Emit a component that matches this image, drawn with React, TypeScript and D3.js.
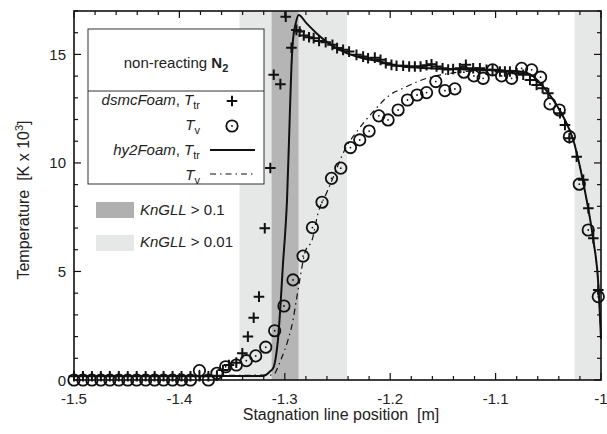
import React from 'react';
import * as d3 from 'd3';

const W = 607, H = 434;
const PL = 74, PR = 601, PT = 11, PB = 380;

const xMajor = [-1.5, -1.4, -1.3, -1.2, -1.1, -1.0];
const xMajorLabels = ['-1.5', '-1.4', '-1.3', '-1.2', '-1.1', '-1'];
const yMajor = [0, 5, 10, 15];
const yMajorLabels = ['0', '5', '10', '15'];

const knDark: [number, number][] = [[-1.3125, -1.287]];
const knLight: [number, number][] = [[-1.343, -1.241], [-1.025, -1.0]];

// dsmcFoam translational-rotational temperature (+)
const dsmcTtr: [number, number][] = [
  [-1.5, 0.17], [-1.4915, 0.17], [-1.483, 0.17], [-1.4745, 0.17], [-1.466, 0.17], [-1.4575, 0.17],
  [-1.449, 0.17], [-1.4405, 0.17], [-1.432, 0.17], [-1.4235, 0.17], [-1.415, 0.17], [-1.4065, 0.17],
  [-1.398, 0.17], [-1.3895, 0.17], [-1.381, 0.17], [-1.3725, 0.17], [-1.3644, 0.2],
  [-1.3587, 0.46], [-1.353, 0.69], [-1.346, 0.8], [-1.3403, 1.23], [-1.335, 2.0], [-1.3295, 2.87],
  [-1.3245, 3.84], [-1.319, 6.99], [-1.3137, 9.77], [-1.3105, 14.06], [-1.3042, 13.63],
  [-1.2991, 16.74], [-1.2937, 15.31], [-1.289, 16.13],
  [-1.2859, 16.05], [-1.282, 15.87], [-1.277, 15.79], [-1.2726, 15.75], [-1.2675, 15.62],
  [-1.2612, 15.56], [-1.2548, 15.44], [-1.2504, 15.29], [-1.2447, 15.21], [-1.239, 15.13],
  [-1.232, 14.98], [-1.2257, 14.9], [-1.221, 14.82], [-1.2146, 14.85], [-1.2092, 14.75],
  [-1.2042, 14.59], [-1.1988, 14.52], [-1.194, 14.48], [-1.1877, 14.48], [-1.182, 14.44],
  [-1.1766, 14.44], [-1.1712, 14.44], [-1.1655, 14.5], [-1.1608, 14.55], [-1.156, 14.44],
  [-1.1503, 14.36], [-1.145, 14.3], [-1.1403, 14.33], [-1.1339, 14.36], [-1.1282, 14.52],
  [-1.1213, 14.36], [-1.1149, 14.36], [-1.1086, 14.29], [-1.1029, 14.29], [-1.0959, 14.21],
  [-1.0912, 14.21], [-1.0864, 14.21], [-1.08, 14.13], [-1.0738, 14.06], [-1.0674, 13.82],
  [-1.0611, 13.59], [-1.0554, 13.44], [-1.05, 13.21], [-1.0389, 12.29], [-1.0342, 11.75],
  [-1.03, 11.14], [-1.0231, 10.29], [-1.0168, 9.22], [-1.012, 7.91], [-1.0073, 6.53], [-1.0026, 4.15],
];

// dsmcFoam vibrational temperature (circles)
const dsmcTv: [number, number][] = [
  [-1.5, 0], [-1.4915, 0], [-1.483, 0], [-1.4745, 0], [-1.466, 0], [-1.4575, 0],
  [-1.449, 0], [-1.4405, 0], [-1.432, 0], [-1.4235, 0], [-1.415, 0], [-1.4065, 0],
  [-1.398, 0], [-1.3895, 0], [-1.381, 0.43], [-1.3725, 0], [-1.3644, 0.31],
  [-1.3561, 0.61], [-1.346, 0.69], [-1.3365, 0.89], [-1.3276, 1.11], [-1.3181, 1.51],
  [-1.3096, 2.27], [-1.3008, 3.41], [-1.2922, 4.61], [-1.2827, 5.71], [-1.2738, 7.02],
  [-1.2647, 8.19], [-1.2557, 9.29], [-1.2469, 9.76], [-1.2377, 10.71], [-1.2289, 11.06],
  [-1.22, 11.47], [-1.2108, 12.17], [-1.202, 11.98], [-1.1925, 12.44], [-1.1836, 12.9],
  [-1.1745, 13.13], [-1.1655, 13.24], [-1.1567, 13.75], [-1.1481, 13.33], [-1.1386, 13.41],
  [-1.1301, 14.18], [-1.1206, 14.01], [-1.1118, 13.9], [-1.1029, 14.29], [-1.0943, 14.01],
  [-1.0848, 13.9], [-1.0753, 14.36], [-1.0658, 14.29], [-1.0573, 13.95], [-1.0484, 12.72],
  [-1.0396, 12.44], [-1.03, 11.21], [-1.0206, 9.02], [-1.0121, 6.91], [-1.0026, 3.84],
];

// hy2Foam translational-rotational temperature (solid line)
const hy2Ttr: [number, number][] = [
  [-1.5, 0.18], [-1.321, 0.18], [-1.3143, 0.38], [-1.3105, 0.61], [-1.308, 1.23], [-1.3065, 1.84],
  [-1.3048, 2.92], [-1.3032, 4.15], [-1.3017, 5.38], [-1.3001, 6.45], [-1.2979, 8.29],
  [-1.2953, 12.13], [-1.2937, 14.44], [-1.2922, 15.67], [-1.2896, 16.44], [-1.2868, 16.82],
  [-1.2795, 16.44], [-1.27, 15.98], [-1.2605, 15.59], [-1.2479, 15.21], [-1.232, 14.9],
  [-1.2099, 14.67], [-1.1878, 14.44], [-1.1624, 14.36], [-1.0769, 14.21], [-1.0643, 13.98],
  [-1.0548, 13.52], [-1.0453, 12.9], [-1.0358, 12.13], [-1.0263, 11.06], [-1.02, 9.83],
  [-1.0136, 8.29], [-1.0073, 6.45], [-1.0026, 4.46], [-1.0, 1.9],
];

// hy2Foam vibrational temperature (dash-dot line)
const hy2Tv: [number, number][] = [
  [-1.5, 0.18], [-1.3115, 0.23], [-1.3032, 1.0], [-1.297, 1.84], [-1.2922, 2.76], [-1.289, 3.69],
  [-1.2858, 4.61], [-1.2811, 5.84], [-1.2738, 6.5], [-1.2685, 7.68], [-1.2605, 8.6],
  [-1.2574, 8.95], [-1.2415, 10.75], [-1.2305, 11.52], [-1.2162, 12.36], [-1.2004, 13.13],
  [-1.1877, 13.44], [-1.1719, 13.79], [-1.1593, 13.98], [-1.14, 14.15], [-1.12, 14.24],
  [-1.1, 14.25], [-1.0769, 14.21], [-1.0643, 13.98], [-1.0548, 13.52], [-1.0453, 12.9],
  [-1.0358, 12.13], [-1.0263, 11.06], [-1.02, 9.83], [-1.0136, 8.29], [-1.0073, 6.45],
  [-1.0026, 4.46], [-1.0, 1.9],
];

const FONT = "'Liberation Sans', Arial, sans-serif";

export default function App() {
  const x = d3.scaleLinear().domain([-1.5, -1.0]).range([PL, PR]);
  const y = d3.scaleLinear().domain([0, 17]).range([PB, PT]);
  const lineGen = d3.line<[number, number]>().x(d => x(d[0])).y(d => y(d[1])).curve(d3.curveMonotoneX);

  const xMinor = x.ticks(25);
  const yMinor = y.ticks(17);

  const plus = (cx: number, cy: number, key: string | number, s = 5.3) => (
    <path key={key} d={`M${cx - s},${cy}H${cx + s}M${cx},${cy - s}V${cy + s}`} stroke="#111" strokeWidth={2} fill="none" />
  );
  const circ = (cx: number, cy: number, key: string | number) => (
    <g key={key}>
      <circle cx={cx} cy={cy} r={5.7} fill="none" stroke="#111" strokeWidth={1.8} />
      <circle cx={cx} cy={cy} r={0.9} fill="#111" />
    </g>
  );

  const isMajorX = (v: number) => xMajor.some(m => Math.abs(m - v) < 1e-6);
  const isMajorY = (v: number) => yMajor.some(m => Math.abs(m - v) < 1e-6);

  return (
    <div style={{ position: 'absolute', left: 0, top: 0 }}>
      <svg width={W} height={H} style={{ display: 'block', fontFamily: FONT }}>
        <rect x={0} y={0} width={W} height={H} fill="#fff" />
        {knLight.map((r, i) => (
          <rect key={'l' + i} x={x(r[0])} y={PT} width={x(r[1]) - x(r[0])} height={PB - PT} fill="#e6e7e7" />
        ))}
        {knDark.map((r, i) => (
          <rect key={'d' + i} x={x(r[0])} y={PT} width={x(r[1]) - x(r[0])} height={PB - PT} fill="#b5b5b5" />
        ))}

        {/* ticks */}
        {xMinor.map((v, i) => {
          const len = isMajorX(v) ? 7 : 4;
          return (
            <g key={'xt' + i}>
              <line x1={x(v)} x2={x(v)} y1={PB} y2={PB - len} stroke="#111" strokeWidth={1.2} />
              <line x1={x(v)} x2={x(v)} y1={PT} y2={PT + len} stroke="#111" strokeWidth={1.2} />
            </g>
          );
        })}
        {yMinor.map((v, i) => {
          const len = isMajorY(v) ? 7 : 4;
          return (
            <g key={'yt' + i}>
              <line x1={PL} x2={PL + len} y1={y(v)} y2={y(v)} stroke="#111" strokeWidth={1.2} />
              <line x1={PR} x2={PR - len} y1={y(v)} y2={y(v)} stroke="#111" strokeWidth={1.2} />
            </g>
          );
        })}

        {/* model lines */}
        <path d={lineGen(hy2Tv) || ''} fill="none" stroke="#111" strokeWidth={1.2} strokeDasharray="6,4,1.5,4" />
        <path d={lineGen(hy2Ttr) || ''} fill="none" stroke="#111" strokeWidth={2} />

        {/* DSMC markers */}
        {dsmcTv.map((d, i) => circ(x(d[0]), y(d[1]), 'c' + i))}
        {dsmcTtr.map((d, i) => plus(x(d[0]), y(d[1]), 'p' + i))}

        {/* frame */}
        <rect x={PL} y={PT} width={PR - PL} height={PB - PT} fill="none" stroke="#111" strokeWidth={1.6} />

        {/* tick labels */}
        {xMajor.map((v, i) => (
          <text key={'xl' + i} x={x(v)} y={404} fontSize={15} textAnchor="middle" fill="#222">{xMajorLabels[i]}</text>
        ))}
        {yMajor.map((v, i) => (
          <text key={'yl' + i} x={66} y={y(v) + 5.5} fontSize={15} textAnchor="end" fill="#222">{yMajorLabels[i]}</text>
        ))}

        {/* axis titles */}
        <text x={341} y={420} fontSize={16} textAnchor="middle" fill="#222" style={{ whiteSpace: 'pre' }}>{'Stagnation line position  [m]'}</text>
        <text transform={`translate(29,200) rotate(-90)`} fontSize={16} textAnchor="middle" fill="#222" style={{ whiteSpace: 'pre' }}>
          {'Temperature  [K x 10'}<tspan dy={-6} fontSize={11}>3</tspan><tspan dy={6}>]</tspan>
        </text>

        {/* legend box */}
        <rect x={88} y={29} width={176} height={155} fill="#fff" stroke="#333" strokeWidth={1} />
        <line x1={88} x2={264} y1={91} y2={91} stroke="#333" strokeWidth={1} />
        <text x={176} y={68} fontSize={15} textAnchor="middle" fill="#222">
          non-reacting <tspan fontWeight="bold">N</tspan><tspan fontWeight="bold" fontSize={11} dy={4}>2</tspan>
        </text>
        <text x={200} y={105} fontSize={15} textAnchor="end" fill="#222">
          <tspan fontStyle="italic">dsmcFoam</tspan>, <tspan fontStyle="italic">T</tspan><tspan fontSize={11} dy={4}>tr</tspan>
        </text>
        <text x={200} y={130} fontSize={15} textAnchor="end" fill="#222">
          <tspan fontStyle="italic">T</tspan><tspan fontSize={11} dy={4}>v</tspan>
        </text>
        <text x={200} y={155} fontSize={15} textAnchor="end" fill="#222">
          <tspan fontStyle="italic">hy2Foam</tspan>, <tspan fontStyle="italic">T</tspan><tspan fontSize={11} dy={4}>tr</tspan>
        </text>
        <text x={200} y={180} fontSize={15} textAnchor="end" fill="#222">
          <tspan fontStyle="italic">T</tspan><tspan fontSize={11} dy={4}>v</tspan>
        </text>
        {plus(232, 101, 'lp')}
        {circ(232, 126, 'lc')}
        <line x1={210} x2={255} y1={150} y2={150} stroke="#111" strokeWidth={2} />
        <line x1={210} x2={255} y1={174} y2={174} stroke="#111" strokeWidth={1.2} strokeDasharray="6,4,1.5,4" />

        {/* KnGLL legend */}
        <rect x={96} y={202} width={38} height={16} fill="#b0b0b0" />
        <text x={140} y={215} fontSize={15} fill="#222"><tspan fontStyle="italic">KnGLL</tspan> &gt; 0.1</text>
        <rect x={96} y={235} width={38} height={16} fill="#e6e7e7" />
        <text x={140} y={247} fontSize={15} fill="#222"><tspan fontStyle="italic">KnGLL</tspan> &gt; 0.01</text>
      </svg>
    </div>
  );
}
